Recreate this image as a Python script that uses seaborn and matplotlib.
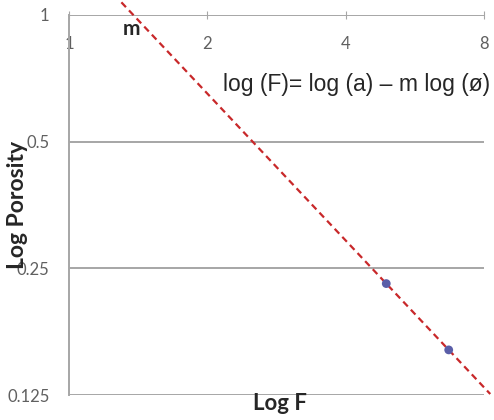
import numpy as np
import pandas as pd
import matplotlib
matplotlib.use("Agg")
import matplotlib.pyplot as plt
import seaborn as sns
from matplotlib.ticker import FixedLocator, FixedFormatter, NullLocator

# measured points (formation factor vs porosity)
formation_factor = [4.9, 6.7]
porosity = [0.23, 0.16]

# extent of the fitted trend line in F
line_f_range = [1.3, 8.25]

x_ticks = [1, 2, 4, 8]
x_labels = ["1", "2", "4", "8"]
y_ticks = [0.125, 0.25, 0.5, 1]
y_labels = ["0.125", "0.25", "0.5", "1"]

sns.set_style("white")
plt.rcParams["font.family"] = ["Lato", "DejaVu Sans"]

fig = plt.figure(figsize=(4.94, 4.2), dpi=100)
ax = fig.add_axes([0.1397, 0.0595, 0.8403, 0.9048])

df = pd.DataFrame({"F": formation_factor, "phi": porosity})

# fit log(phi) vs log(F) and extend the line across the plot
slope, intercept = np.polyfit(np.log2(df["F"]), np.log2(df["phi"]), 1)
line_df = pd.DataFrame({"F": line_f_range})
line_df["phi"] = 2 ** (intercept + slope * np.log2(line_df["F"]))

ax.set_xscale("log", base=2)
ax.set_yscale("log", base=2)
ax.set_xlim(1, 8)
ax.set_ylim(0.125, 1)

for y in y_ticks:
    ax.axhline(y, color="#a6a6a6", lw=1.4, zorder=1)

line = sns.lineplot(data=line_df, x="F", y="phi", ax=ax, color="#c8282a",
                    lw=1.6, zorder=3)
line.lines[-1].set_dashes([3, 2])
line.lines[-1].set_clip_on(False)

sns.scatterplot(data=df, x="F", y="phi", ax=ax, color="#5a5ea8", s=40,
                edgecolor="none", zorder=4)

ax.xaxis.set_major_locator(FixedLocator(x_ticks))
ax.xaxis.set_major_formatter(FixedFormatter(x_labels))
ax.xaxis.set_minor_locator(NullLocator())
ax.yaxis.set_major_locator(FixedLocator(y_ticks))
ax.yaxis.set_major_formatter(FixedFormatter(y_labels))
ax.yaxis.set_minor_locator(NullLocator())

ax.xaxis.tick_top()
ax.tick_params(axis="x", which="major", direction="inout", length=6,
               color="#a6a6a6", labelcolor="#606060", labelsize=12,
               labeltop=True, pad=-30)
ax.tick_params(axis="y", which="major", length=0, labelcolor="#606060",
               labelsize=12, pad=14)

for side in ["right", "bottom", "top"]:
    ax.spines[side].set_visible(False)
ax.spines["left"].set_color("#a6a6a6")
ax.spines["left"].set_linewidth(1.4)

ax.set_xlabel("")
ax.set_ylabel("")
fig.text(0.567, 0.04, "Log F", ha="center", va="center", fontsize=16,
         fontweight="bold", color="#262626")
fig.text(0.035, 0.512, "Log Porosity", ha="center", va="center",
         rotation=90, fontsize=16.5, fontweight="bold", color="#262626")
fig.text(0.267, 0.93, "m", ha="center", va="center", fontsize=15,
         fontweight="bold", color="#262626")
fig.text(0.451, 0.80, "log (F)= log (a) \u2013 m log (\u00f8)", ha="left",
         va="center", fontsize=16.5, color="#262626",
         family=["Liberation Sans", "DejaVu Sans"])

fig.savefig("out.png", dpi=100)
